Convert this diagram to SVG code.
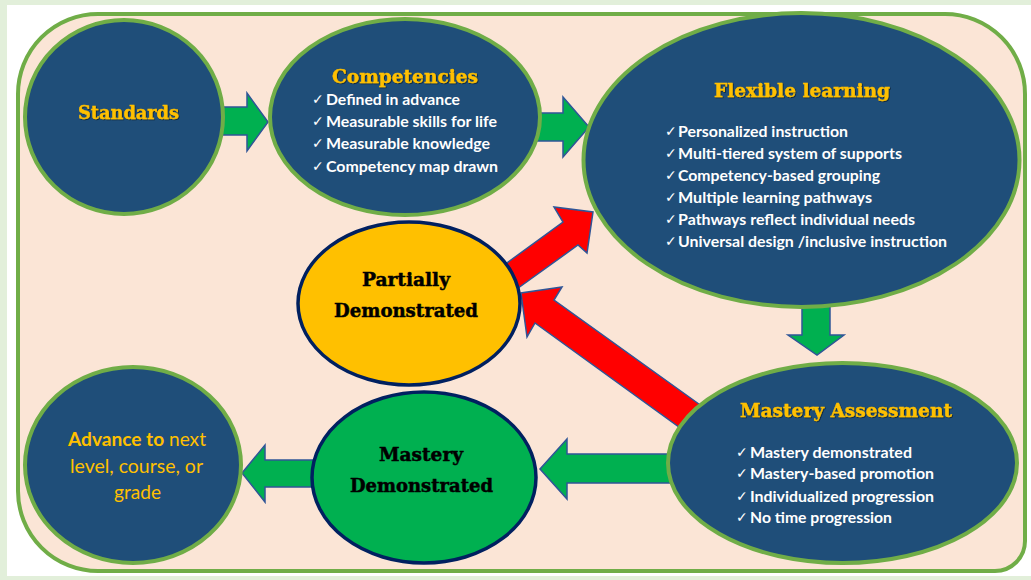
<svg xmlns="http://www.w3.org/2000/svg" width="1031" height="580" viewBox="0 0 1031 580">
<defs>
<style>
.blue{fill:#1f4e79;stroke:#70ad47;stroke-width:4}
.title{font-family:"DejaVu Serif","Liberation Serif",serif;font-weight:bold;fill:#ffc000;stroke:#ffc000;stroke-width:0.4;font-size:19px}
.dark{font-family:"DejaVu Serif","Liberation Serif",serif;font-weight:bold;fill:#000;stroke:#000;stroke-width:0.5;font-size:19px}
.body{font-family:Lato,"Open Sans","Liberation Sans",sans-serif;font-weight:bold;fill:#fff;font-size:15px}
.chk{font-family:"DejaVu Sans",sans-serif;font-weight:normal;font-size:14px;fill:#fff}
.adv{font-family:Lato,"Open Sans","Liberation Sans",sans-serif;fill:#ffc000;font-size:19px}
.garrow{fill:#00b050;stroke:#2f5597;stroke-width:1.5;stroke-linejoin:miter}
.rarrow{fill:#ff0000;stroke:#2f5597;stroke-width:1.5;stroke-linejoin:miter}
</style>
<filter id="sh" x="-5%" y="-20%" width="110%" height="140%">
<feDropShadow dx="0.8" dy="0.8" stdDeviation="0.4" flood-color="#000" flood-opacity="0.6"/>
</filter>
</defs>
<rect x="0" y="0" width="1031" height="580" fill="#e2efda"/>
<rect x="7" y="5" width="1024" height="571" fill="#ffffff"/>
<path d="M98,14 H945 A80,80 0 0 1 1025,94 V541 A30,30 0 0 1 995,571 H98 A80,80 0 0 1 18,491 V94 A80,80 0 0 1 98,14 Z" fill="#fbe5d6" stroke="#70ad47" stroke-width="4"/>
<g id="connectors">
<polygon class="garrow" points="220,107 247,107 247,93 268,122 247,151 247,135 220,135"/>
<polygon class="garrow" points="536,113 563,113 563,97 589,127 563,157 563,141 536,141"/>
<polygon class="garrow" points="802,300 830,300 830,335 844,335 817,355 788,335 802,335"/>
<polygon class="garrow" points="690,454 567,454 567,439 540,469 567,499 567,483 690,483"/>
<polygon class="garrow" points="330,460 265,460 265,445 242,473 265,502 265,487 330,487"/>
<polygon class="rarrow" points="500,268 563,222 554,207 593,212 587,253 578,245 514,291"/>
<polygon class="rarrow" points="710,412 554,300 562,287 521,293 527,337 535,323 690,435"/>
</g>
<g id="standards">
<ellipse class="blue" cx="124" cy="117" rx="99" ry="97"/>
<text class="title" filter="url(#sh)" x="128.5" y="119" text-anchor="middle" textLength="101" lengthAdjust="spacingAndGlyphs">Standards</text>
</g>
<g id="competencies">
<ellipse class="blue" cx="405" cy="117" rx="135" ry="98"/>
<text class="title" filter="url(#sh)" x="405" y="83" text-anchor="middle" textLength="146" lengthAdjust="spacingAndGlyphs">Competencies</text>
<text class="chk" x="312" y="104">✓</text>
<text class="body" x="326" y="105" textLength="134" lengthAdjust="spacingAndGlyphs">Defined in advance</text>
<text class="chk" x="312" y="126">✓</text>
<text class="body" x="326" y="127" textLength="171" lengthAdjust="spacingAndGlyphs">Measurable skills for life</text>
<text class="chk" x="312" y="148">✓</text>
<text class="body" x="326" y="149" textLength="164" lengthAdjust="spacingAndGlyphs">Measurable knowledge</text>
<text class="chk" x="312" y="171">✓</text>
<text class="body" x="326" y="172" textLength="172" lengthAdjust="spacingAndGlyphs">Competency map drawn</text>
</g>
<g id="flexible-learning">
<ellipse class="blue" cx="801.5" cy="160" rx="218" ry="147"/>
<text class="title" filter="url(#sh)" x="802" y="97" text-anchor="middle" textLength="176" lengthAdjust="spacingAndGlyphs">Flexible learning</text>
<text class="chk" x="665" y="136">✓</text>
<text class="body" x="678" y="137" textLength="170" lengthAdjust="spacingAndGlyphs">Personalized instruction</text>
<text class="chk" x="665" y="158">✓</text>
<text class="body" x="678" y="159" textLength="224" lengthAdjust="spacingAndGlyphs">Multi-tiered system of supports</text>
<text class="chk" x="665" y="180">✓</text>
<text class="body" x="678" y="181" textLength="202" lengthAdjust="spacingAndGlyphs">Competency-based grouping</text>
<text class="chk" x="665" y="202">✓</text>
<text class="body" x="678" y="203" textLength="194" lengthAdjust="spacingAndGlyphs">Multiple learning pathways</text>
<text class="chk" x="665" y="224">✓</text>
<text class="body" x="678" y="225" textLength="237" lengthAdjust="spacingAndGlyphs">Pathways reflect individual needs</text>
<text class="chk" x="665" y="246">✓</text>
<text class="body" x="678" y="247" textLength="269" lengthAdjust="spacingAndGlyphs">Universal design /inclusive instruction</text>
</g>
<g id="partially-demonstrated">
<ellipse cx="409" cy="303.5" rx="111" ry="81.5" fill="#ffc000" stroke="#002060" stroke-width="3.5"/>
<text class="dark" x="406" y="286" text-anchor="middle" textLength="88" lengthAdjust="spacingAndGlyphs">Partially</text>
<text class="dark" x="406" y="317" text-anchor="middle" textLength="144" lengthAdjust="spacingAndGlyphs">Demonstrated</text>
</g>
<g id="mastery-demonstrated">
<ellipse cx="424" cy="477.5" rx="112" ry="85.5" fill="#00b050" stroke="#002060" stroke-width="3.5"/>
<text class="dark" x="421" y="461" text-anchor="middle" textLength="84" lengthAdjust="spacingAndGlyphs">Mastery</text>
<text class="dark" x="421.5" y="492" text-anchor="middle" textLength="143" lengthAdjust="spacingAndGlyphs">Demonstrated</text>
</g>
<g id="advance">
<ellipse class="blue" cx="133" cy="465" rx="108" ry="98"/>
<text class="adv" x="68" y="446" textLength="138" lengthAdjust="spacingAndGlyphs"><tspan font-weight="bold">Advance to</tspan> next</text>
<text class="adv" x="70" y="473" textLength="133" lengthAdjust="spacingAndGlyphs">level, course, or</text>
<text class="adv" x="114" y="499" textLength="47" lengthAdjust="spacingAndGlyphs">grade</text>
</g>
<g id="mastery-assessment">
<ellipse class="blue" cx="842.5" cy="463" rx="174.5" ry="100"/>
<text class="title" filter="url(#sh)" x="846" y="417" text-anchor="middle" textLength="212" lengthAdjust="spacingAndGlyphs">Mastery Assessment</text>
<text class="chk" x="736" y="457">✓</text>
<text class="body" x="750" y="458" textLength="162" lengthAdjust="spacingAndGlyphs">Mastery demonstrated</text>
<text class="chk" x="736" y="478">✓</text>
<text class="body" x="750" y="479" textLength="184" lengthAdjust="spacingAndGlyphs">Mastery-based promotion</text>
<text class="chk" x="736" y="501">✓</text>
<text class="body" x="750" y="502" textLength="184" lengthAdjust="spacingAndGlyphs">Individualized progression</text>
<text class="chk" x="736" y="522">✓</text>
<text class="body" x="750" y="523" textLength="142" lengthAdjust="spacingAndGlyphs">No time progression</text>
</g>
</svg>
